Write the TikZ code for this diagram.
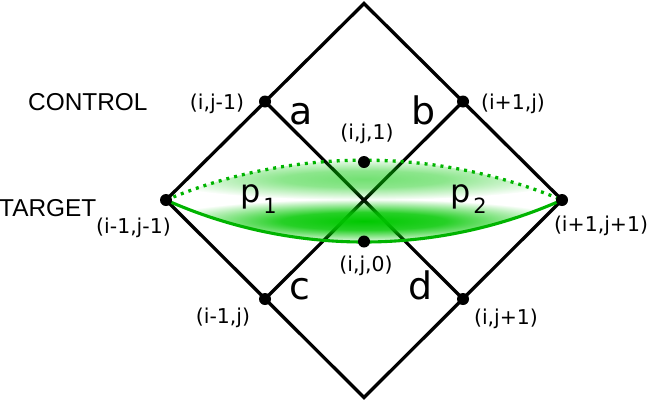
\documentclass[tikz,border=0pt]{standalone}
\usepackage{fontspec}
\setmainfont{DejaVu Sans}
\newfontfamily\arialf{Liberation Sans}
\usetikzlibrary{fadings}
\definecolor{lensg}{RGB}{0,200,0}
\definecolor{curveg}{RGB}{0,180,0}
\pgfdeclareradialshading{lowsh}{\pgfpointorigin}{color(0bp)=(transparent!0); color(10bp)=(transparent!15); color(25bp)=(transparent!100); color(50bp)=(transparent!100)}
\pgfdeclarefading{lowf}{\pgfuseshading{lowsh}}
\pgfdeclareradialshading{upsh}{\pgfpointorigin}{color(0bp)=(transparent!45); color(10bp)=(transparent!55); color(25bp)=(transparent!100); color(50bp)=(transparent!100)}
\pgfdeclarefading{upf}{\pgfuseshading{upsh}}
\tikzset{
  grid line/.style={line width=3.3bp, black, line join=miter},
  lab/.style={font=\fontsize{20.5}{24}\selectfont, inner sep=0},
  letter/.style={font=\fontsize{38}{40}\selectfont, inner sep=0, anchor=base},
  plab/.style={font=\fontsize{32}{34}\selectfont, inner sep=0, anchor=base west},
  side/.style={font=\arialf\fontsize{24.5}{26}\selectfont, inner sep=0},
  solidcurve/.style={curveg, line width=3.1bp},
  dotcurve/.style={curveg, line width=3.3bp, dash pattern=on 3bp off 5bp},
}
\begin{document}
\begin{tikzpicture}[x=1bp, y=-1bp]
\useasboundingbox (0,0) rectangle (648,403);
% vertices
\coordinate (T) at (364,3.5);
\coordinate (Bt) at (364,397.5);
\coordinate (L) at (166,200);
\coordinate (R) at (562,200);
\coordinate (A) at (265,101.5);
\coordinate (Bq) at (463,101.5);
\coordinate (C) at (265,299);
\coordinate (D) at (463,299);
\coordinate (U) at (364,162);
\coordinate (W) at (364,241.5);
% grid
\draw[grid line] (T) -- (R) -- (Bt) -- (L) -- cycle;
\draw[grid line] (A) -- (D);
\draw[grid line] (Bq) -- (C);
% lens fill
\begin{scope}
  \clip (L) .. controls (292.3,146.9) and (435.7,146.9) .. (R)
        .. controls (435.9,256) and (292.1,256) .. (L) -- cycle;
  \fill[lensg, path fading=lowf] (364,221) ellipse [x radius=205, y radius=22];
  \fill[lensg, path fading=upf] (364,179) ellipse [x radius=205, y radius=21];
\end{scope}
% lens curves
\draw[dotcurve] (L) .. controls (292.3,146.9) and (435.7,146.9) .. (R);
\draw[solidcurve] (L) .. controls (292.1,256) and (435.9,256) .. (R);
% dots
\foreach \n in {L,R,A,Bq,C,D,U,W} \fill (\n) circle[radius=6bp];
% labels
\node[side, anchor=west] (ctl) at (28,102) {CONTROL};
\node[side, anchor=west] (tgt) at (-1,208) {TARGET};
\node[lab] (lA) at (217,104) {(i,j-1)};
\node[lab] (lB) at (513,104) {(i+1,j)};
\node[lab] (lU) at (367,134) {(i,j,1)};
\node[lab] (lL) at (133.5,228) {(i-1,j-1)};
\node[lab] (lR) at (601,226) {(i+1,j+1)};
\node[lab] (lW) at (366,266) {(i,j,0)};
\node[lab] (lC) at (223,318) {(i-1,j)};
\node[lab] (lD) at (506,319) {(i,j+1)};
\node[letter] (na) at (301,124.3) {a};
\node[letter] (nb) at (424,124.3) {b};
\node[letter] (nc) at (299.5,299) {c};
\node[letter] (nd) at (421,299) {d};
\node[plab] (p1) at (240,202.5) {p\kern3bp\raisebox{-10.5bp}{\fontsize{21}{21}\selectfont 1}};
\node[plab] (p2) at (450,202.5) {p\kern3bp\raisebox{-10.5bp}{\fontsize{21}{21}\selectfont 2}};
\end{tikzpicture}
\end{document}
